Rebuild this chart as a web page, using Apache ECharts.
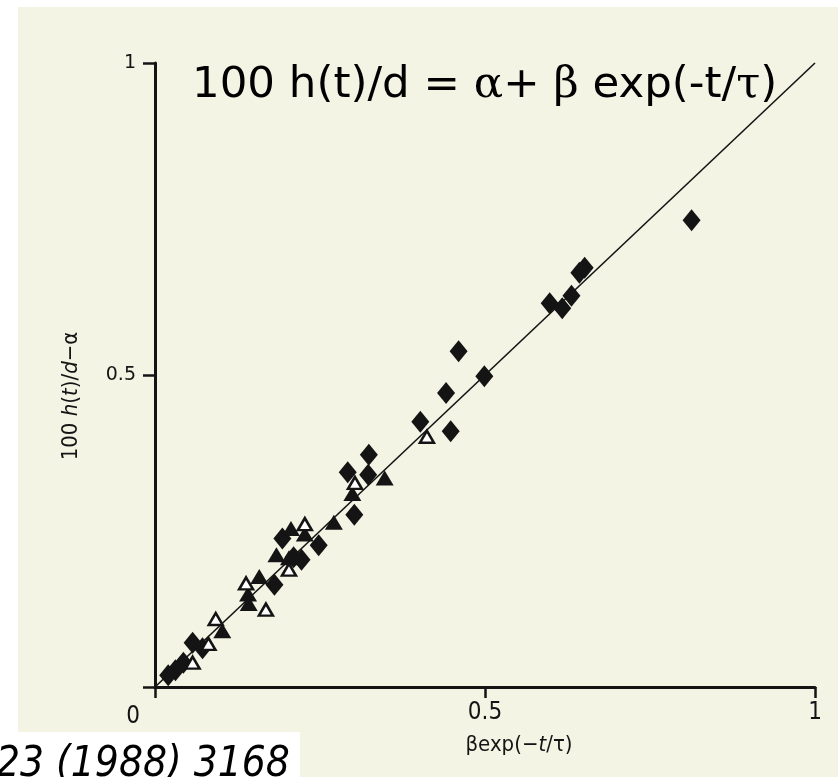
<!DOCTYPE html>
<html>
<head>
<meta charset="utf-8">
<script src="https://cdn.jsdelivr.net/npm/echarts@6/dist/echarts.min.js"></script>
<style>
  html, body { margin: 0; padding: 0; background: #ffffff; }
  #chart { width: 838px; height: 777px; }
</style>
</head>
<body>
<div id="chart"></div>
<script>
// Measured points: x = beta*exp(-t/tau), y = 100 h(t)/d - alpha
const diamonds = [
  [0.813, 0.748], [0.643, 0.664], [0.651, 0.672], [0.598, 0.615], [0.617, 0.607], [0.631, 0.627],
  [0.460, 0.538], [0.499, 0.498], [0.441, 0.471], [0.402, 0.425], [0.448, 0.410],
  [0.324, 0.372], [0.292, 0.344], [0.323, 0.340], [0.302, 0.276],
  [0.193, 0.238], [0.248, 0.227], [0.222, 0.204], [0.210, 0.208], [0.181, 0.164],
  [0.057, 0.071], [0.072, 0.062], [0.043, 0.039], [0.031, 0.027], [0.020, 0.019]
];
const filledTriangles = [
  [0.348, 0.335], [0.299, 0.310], [0.271, 0.264], [0.206, 0.254], [0.227, 0.245],
  [0.184, 0.212], [0.203, 0.207], [0.158, 0.177], [0.141, 0.149], [0.142, 0.134], [0.102, 0.090]
];
const openTriangles = [
  [0.412, 0.401], [0.303, 0.327], [0.227, 0.261], [0.203, 0.188], [0.138, 0.166],
  [0.168, 0.124], [0.092, 0.109], [0.081, 0.069], [0.057, 0.039]
];
// Model line y = x
const fitLine = [[0, 0], [1, 1]];

const xTicks = [0, 0.5, 1];
const yTicks = [0.5, 1];

const INK = '#141414';
const PAPER = '#f4f4e5';
const SANS = "'DejaVu Sans', sans-serif";
const COND = "'DejaVu Sans Condensed', 'DejaVu Sans', sans-serif";

const chart = echarts.init(document.getElementById('chart'), null, { renderer: 'canvas' });

chart.setOption({
  animation: false,
  backgroundColor: PAPER,
  grid: { left: 155, right: 23, top: 63, bottom: 90, containLabel: false },
  xAxis: {
    type: 'value', min: 0, max: 1, interval: 0.5,
    splitLine: { show: false },
    axisLine: { lineStyle: { color: INK, width: 3 } },
    axisTick: { inside: false, length: 11, lineStyle: { color: INK, width: 2.5 } },
    axisLabel: {
      color: INK, fontFamily: COND, fontSize: 24, margin: 14,
      formatter: v => xTicks.includes(v) ? (v === 0 ? '{z|0}' : String(v)) : '',
      rich: { z: { color: INK, fontFamily: COND, fontSize: 24, padding: [4, 44, 0, 0] } }
    }
  },
  yAxis: {
    type: 'value', min: 0, max: 1, interval: 0.5,
    splitLine: { show: false },
    axisLine: { lineStyle: { color: INK, width: 3 } },
    axisTick: { inside: false, length: 12, lineStyle: { color: INK, width: 2.5 } },
    axisLabel: {
      color: INK, fontFamily: SANS, fontSize: 19, margin: 19,
      formatter: v => yTicks.includes(v) ? String(v) : ''
    }
  },
  graphic: [
    { type: 'rect', shape: { x: 0, y: 0, width: 838, height: 7 }, style: { fill: '#ffffff' }, silent: true },
    { type: 'rect', shape: { x: 0, y: 0, width: 18, height: 777 }, style: { fill: '#ffffff' }, silent: true },
    { type: 'rect', shape: { x: 0, y: 732, width: 300, height: 45 }, style: { fill: '#ffffff' }, silent: true },
    {
      type: 'text', x: 192, y: 86, silent: true,
      style: {
        text: '100 h(t)/d = {g|α}+ {g|β} exp(-t/{g|τ})',
        fill: '#000', fontFamily: SANS, fontSize: 43.5, align: 'left', verticalAlign: 'middle',
        rich: { g: { fill: '#000', fontFamily: "'DejaVu Serif', serif", fontSize: 43.5 } }
      }
    },
    {
      type: 'text', x: 71, y: 396, rotation: Math.PI / 2, silent: true,
      style: {
        text: '100 {i|h}({i|t})/{i|d}−α',
        fill: INK, fontFamily: COND, fontSize: 22, align: 'center', verticalAlign: 'middle',
        rich: { i: { fill: INK, fontFamily: COND, fontSize: 22, fontStyle: 'italic' } }
      }
    },
    {
      type: 'text', x: 519, y: 745, silent: true,
      style: {
        text: 'βexp(−{i|t}/τ)',
        fill: INK, fontFamily: COND, fontSize: 22, align: 'center', verticalAlign: 'middle',
        rich: { i: { fill: INK, fontFamily: COND, fontSize: 22, fontStyle: 'italic' } }
      }
    },
    {
      type: 'text', x: -4, y: 765, silent: true,
      style: {
        text: '23 (1988) 3168',
        fill: '#000', fontFamily: COND, fontSize: 42, fontStyle: 'italic',
        align: 'left', verticalAlign: 'middle'
      }
    }
  ],
  series: [
    {
      type: 'line', data: fitLine, symbol: 'none', clip: false, z: 2,
      lineStyle: { color: INK, width: 1.6 }
    },
    {
      type: 'scatter', data: diamonds, symbol: 'diamond', symbolSize: [18, 22], z: 3,
      itemStyle: { color: INK, opacity: 1 }
    },
    {
      type: 'scatter', data: filledTriangles, symbol: 'triangle', symbolSize: [18, 15], z: 4,
      itemStyle: { color: INK, opacity: 1 }
    },
    {
      type: 'scatter', data: openTriangles, symbol: 'triangle', symbolSize: [14, 12], z: 5,
      itemStyle: { color: '#ffffff', borderColor: INK, borderWidth: 2.5, opacity: 1 }
    }
  ]
});
</script>
</body>
</html>
